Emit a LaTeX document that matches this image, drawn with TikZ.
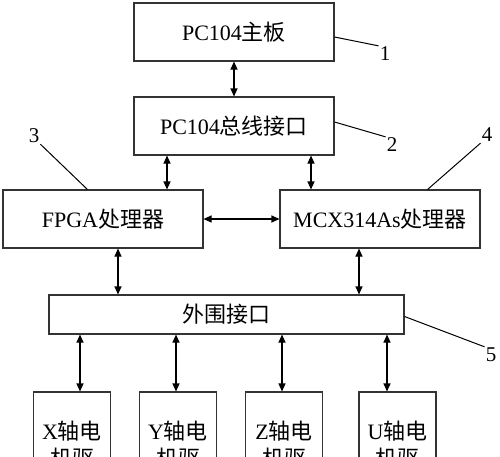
\documentclass[tikz,border=0pt]{standalone}
\usepackage{fontspec}
\setmainfont{Liberation Serif}
\newfontfamily\cjk{Noto Sans CJK SC}
\usetikzlibrary{arrows.meta,calc}

\begin{document}
\begin{tikzpicture}[x=1pt,y=-1pt,
            >={Triangle[length=8pt,width=7pt]},
            block/.style={draw=black!80,line width=1.1pt,minimum width=200pt,
              minimum height=58pt,inner sep=0pt,font=\fontsize{22}{26}\selectfont},
            axisbox/.style={block,minimum width=77pt,minimum height=106pt,
              align=center,font=\fontsize{22}{27}\selectfont},
            link/.style={<->,line width=1.1pt},
            leader/.style={line width=1pt},
            num/.style={inner sep=1pt,font=\fontsize{21}{21}\selectfont}
          ]
          \clip (0,0) rectangle (500,456);
          \node[block] (main) at (234,32) {PC104{\cjk 主板}};
          \node[block] (bus) at (234,126) {PC104{\cjk 总线接口}};
          \node[block] (fpga) at (103,219) {FPGA{\cjk 处理器}};
          \node[block] (mcx) at (380,219) {MCX314As{\cjk 处理器}};
          \node[block,minimum width=355pt,minimum height=39pt] (periph) at (226.5,314.5) {\cjk 外围接口};
          \node[axisbox] (xm) at (72,445) {X{\cjk 轴电}\\{\cjk 机驱}};
          \node[axisbox] (ym) at (178,445) {Y{\cjk 轴电}\\{\cjk 机驱}};
          \node[axisbox] (zm) at (284,445) {Z{\cjk 轴电}\\{\cjk 机驱}};
          \node[axisbox] (um) at (397.5,445) {U{\cjk 轴电}\\{\cjk 机驱}};
          % connections
          \draw[link] (main.south) -- (bus.north);
          \draw[link] ([xshift=64pt]fpga.north) -- ([xshift=64pt]fpga.north |- bus.south);
          \draw[link] ([xshift=-69pt]mcx.north) -- ([xshift=-69pt]mcx.north |- bus.south);
          \draw[link] (fpga.east) -- (mcx.west);
          \draw[link] ([xshift=15pt]fpga.south) -- ([xshift=15pt]fpga.south |- periph.north);
          \draw[link] ([xshift=-21pt]mcx.south) -- ([xshift=-21pt]mcx.south |- periph.north);
          \draw[link] ([xshift=8pt]xm.north) -- ([xshift=8pt]xm.north |- periph.south);
          \draw[link] ([xshift=-2pt]ym.north) -- ([xshift=-2pt]ym.north |- periph.south);
          \draw[link] ([xshift=-2pt]zm.north) -- ([xshift=-2pt]zm.north |- periph.south);
          \draw[link] ([xshift=-10.5pt]um.north) -- ([xshift=-10.5pt]um.north |- periph.south);
          % part numbers
          \node[num] (n1) at (385,54) {1};
          \node[num] (n2) at (392,145) {2};
          \node[num] (n3) at (34,136) {3};
          \node[num] (n4) at (487,135) {4};
          \node[num] (n5) at (491,355) {5};
          \draw[leader] ($(main.east)+(0,5)$) -- (n1.north west);
          \draw[leader] ($(bus.east)+(0,-4)$) -- (n2.north west);
          \draw[leader] (n3.south east) -- ($(fpga.north west)+(85,0)$);
          \draw[leader] (n4.south west) -- ($(mcx.north east)+(-53,0)$);
          \draw[leader] ($(periph.east)+(0,2)$) -- (n5.north west);
        \end{tikzpicture}
\end{document}
